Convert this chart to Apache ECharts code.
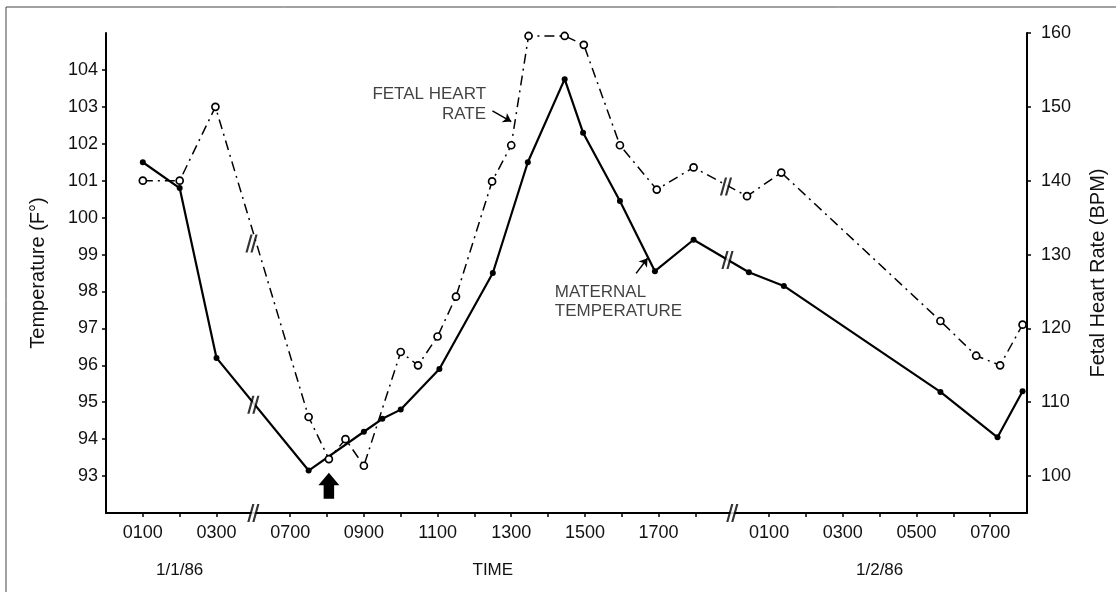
<!DOCTYPE html>
<html>
<head>
<meta charset="utf-8">
<script src="https://cdn.jsdelivr.net/npm/echarts@6/dist/echarts.min.js"></script>
<style>
  html, body { margin: 0; padding: 0; background: #fff; }
  #chart { width: 1116px; height: 592px; }
</style>
</head>
<body>
<div id="chart"></div>
<script>
// ---- data (x = hour slot along the broken time axis; 0100 of 1/1/86 = slot 1) ----
const tickSlots = [1, 2, 3, 5, 6, 7, 8, 9, 10, 11, 12, 13, 14, 15, 16, 18, 19, 20, 21, 22, 23, 24];
const tickLabelSlots = [1, 3, 5, 7, 9, 11, 13, 15, 18, 20, 22, 24];
const tickLabels = ['0100', '0300', '0700', '0900', '1100', '1300', '1500', '1700', '0100', '0300', '0500', '0700'];
const dateLabelSlots = [2, 10.5, 21];
const dateLabels = ['1/1/86', 'TIME', '1/2/86'];
const tempTicks = [93, 94, 95, 96, 97, 98, 99, 100, 101, 102, 103, 104];
const bpmTicks = [100, 110, 120, 130, 140, 150, 160];

// Maternal temperature (°F)
const maternalTemp = [
  [1.0, 101.5], [2.0, 100.8], [3.0, 96.2], [5.5, 93.15], [7.0, 94.2], [7.5, 94.55],
  [8.0, 94.8], [9.05, 95.9], [10.5, 98.5], [11.45, 101.5], [12.45, 103.75], [12.95, 102.3],
  [13.95, 100.45], [14.9, 98.55], [15.95, 99.4], [17.45, 98.52], [18.4, 98.15],
  [22.65, 95.28], [24.2, 94.05], [24.88, 95.3]
];
// Fetal heart rate (BPM)
const fetalHR = [
  [1.0, 140], [2.0, 140], [2.97, 150], [5.5, 108], [6.05, 102.3], [6.5, 105], [7.0, 101.4],
  [8.0, 116.8], [8.47, 115], [9.0, 118.9], [9.5, 124.3], [10.48, 139.9], [11.0, 144.8],
  [11.47, 159.6], [12.45, 159.6], [12.97, 158.4], [13.95, 144.8], [14.95, 138.8],
  [15.95, 141.8], [17.4, 137.9], [18.33, 141.1], [22.65, 121], [23.62, 116.3],
  [24.27, 115], [24.88, 120.5]
];
// Break marks ("//")
const axisBreakSlots = [4, 17];
const maternalBreaks = [[4.0, 94.93], [16.87, 98.85]];
const fetalBreaks = [[3.95, 131.5], [16.83, 139.2]];
// Event arrow (below the curve at 0800)
const eventMarker = [[6.05, 92.74]];
// Annotations
const noteTexts = ['FETAL HEART\nRATE', 'MATERNAL\nTEMPERATURE'];
const notePoints = [[10.33, 103.08], [12.17, 97.72]];
const notePointers = [
  [[10.49, 102.89], [11.0, 102.6]],
  [[14.39, 98.49], [14.7, 98.9]]
];

// ---- chart ----
const FONT = '"Liberation Sans", Arial, Helvetica, sans-serif';
const INK = '#000';
const TXT = '#111';
const near = (a, b) => Math.abs(a - b) < 1e-6;
const slashPath = 'path://M0,18 L5,0 L7.2,0 L2.2,18 Z M5,18 L10,0 L12.2,0 L7.2,18 Z';
const gapPath = 'path://M2.2,18 L7.2,0 L10,0 L5,18 Z';
const arrowPath = 'path://M10,0 L20,12 L15,12 L15,25 L5,25 L5,12 L0,12 Z';

const breakPointsLeft = axisBreakSlots.map(s => [s, 92]).concat(maternalBreaks);

const chart = echarts.init(document.getElementById('chart'), null, { renderer: 'canvas' });
chart.setOption({
  animation: false,
  backgroundColor: '#fff',
  textStyle: { fontFamily: FONT, color: TXT },
  grid: { left: 106, right: 89, top: 33, bottom: 79, containLabel: false },
  graphic: [{
    type: 'polyline', silent: true,
    shape: { points: [[1116, 7], [6, 7], [6, 592]] },
    style: { stroke: '#444', lineWidth: 1, fill: null }
  }],
  xAxis: [{
    type: 'value', min: 0, max: 25, position: 'bottom',
    axisLine: { show: true, onZero: false, lineStyle: { color: INK, width: 2 } },
    axisTick: { show: true, customValues: tickSlots, length: 4, lineStyle: { color: INK, width: 1.5 } },
    axisLabel: {
      customValues: tickLabelSlots, margin: 11, fontSize: 18, color: TXT, fontFamily: FONT,
      formatter: v => { const i = tickLabelSlots.findIndex(s => near(s, v)); return i >= 0 ? tickLabels[i] : ''; }
    },
    splitLine: { show: false }
  }, {
    type: 'value', min: 0, max: 25, position: 'bottom',
    axisLine: { show: false }, axisTick: { show: false }, splitLine: { show: false },
    axisLabel: {
      customValues: dateLabelSlots, margin: 49, fontSize: 17, color: TXT, fontFamily: FONT,
      formatter: v => { const i = dateLabelSlots.findIndex(s => near(s, v)); return i >= 0 ? dateLabels[i] : ''; }
    }
  }],
  yAxis: [{
    type: 'value', min: 92, max: 105, position: 'left',
    name: 'Temperature (F°)', nameLocation: 'middle', nameRotate: 90, nameGap: 58,
    nameTextStyle: { fontSize: 20, color: TXT, fontFamily: FONT },
    axisLine: { show: true, onZero: false, lineStyle: { color: INK, width: 2 } },
    axisTick: { show: true, customValues: tempTicks, length: 4, lineStyle: { color: INK, width: 1.5 } },
    axisLabel: { customValues: tempTicks, margin: 8, fontSize: 18, color: TXT, fontFamily: FONT },
    splitLine: { show: false }
  }, {
    type: 'value', min: 95, max: 160, position: 'right',
    name: 'Fetal Heart Rate (BPM)', nameLocation: 'middle', nameRotate: 90, nameGap: 61,
    nameTextStyle: { fontSize: 20, color: TXT, fontFamily: FONT },
    axisLine: { show: true, onZero: false, lineStyle: { color: INK, width: 2 } },
    axisTick: { show: true, customValues: bpmTicks, length: 4, lineStyle: { color: INK, width: 1.5 } },
    axisLabel: { customValues: bpmTicks, margin: 14, fontSize: 18, color: TXT, fontFamily: FONT },
    splitLine: { show: false }
  }],
  series: [{
    name: 'Maternal Temperature', type: 'line', xAxisIndex: 0, yAxisIndex: 0, z: 3,
    data: maternalTemp, symbol: 'circle', symbolSize: 6,
    itemStyle: { color: INK },
    lineStyle: { color: INK, width: 2.2 }
  }, {
    name: 'Fetal Heart Rate', type: 'line', xAxisIndex: 0, yAxisIndex: 1, z: 4,
    data: fetalHR, symbol: 'circle', symbolSize: 7,
    itemStyle: { color: '#fff', borderColor: INK, borderWidth: 1.7 },
    lineStyle: { color: INK, width: 1.5, type: [10, 5, 2, 5] }
  }, {
    type: 'scatter', xAxisIndex: 0, yAxisIndex: 0, z: 6, clip: false, silent: true,
    data: breakPointsLeft, symbol: gapPath, symbolSize: [12.2, 18], itemStyle: { color: '#fff' }
  }, {
    type: 'scatter', xAxisIndex: 0, yAxisIndex: 0, z: 7, clip: false, silent: true,
    data: breakPointsLeft, symbol: slashPath, symbolSize: [12.2, 18], itemStyle: { color: INK }
  }, {
    type: 'scatter', xAxisIndex: 0, yAxisIndex: 1, z: 6, clip: false, silent: true,
    data: fetalBreaks, symbol: gapPath, symbolSize: [12.2, 18], itemStyle: { color: '#fff' }
  }, {
    type: 'scatter', xAxisIndex: 0, yAxisIndex: 1, z: 7, clip: false, silent: true,
    data: fetalBreaks, symbol: slashPath, symbolSize: [12.2, 18], itemStyle: { color: INK }
  }, {
    type: 'scatter', xAxisIndex: 0, yAxisIndex: 0, z: 7, clip: false, silent: true,
    data: eventMarker, symbol: arrowPath, symbolSize: [21, 26], itemStyle: { color: '#000', opacity: 1 }
  }, {
    type: 'scatter', xAxisIndex: 0, yAxisIndex: 0, z: 8, clip: false, silent: true,
    symbolSize: 1, itemStyle: { color: 'rgba(0,0,0,0)' },
    data: notePoints.map((p, i) => ({
      value: p,
      label: {
        show: true, formatter: noteTexts[i],
        position: i === 0 ? 'left' : 'right', distance: 0,
        align: i === 0 ? 'right' : 'left',
        fontSize: 17, lineHeight: i === 0 ? 20 : 18.5, color: TXT, fontFamily: FONT
      }
    })),
    markLine: {
      silent: true, symbol: ['none', 'arrow'], symbolSize: 8,
      label: { show: false },
      lineStyle: { color: INK, width: 1.5, type: 'solid' },
      data: notePointers.map(seg => [{ coord: seg[0] }, { coord: seg[1] }])
    }
  }]
});
</script>
</body>
</html>
